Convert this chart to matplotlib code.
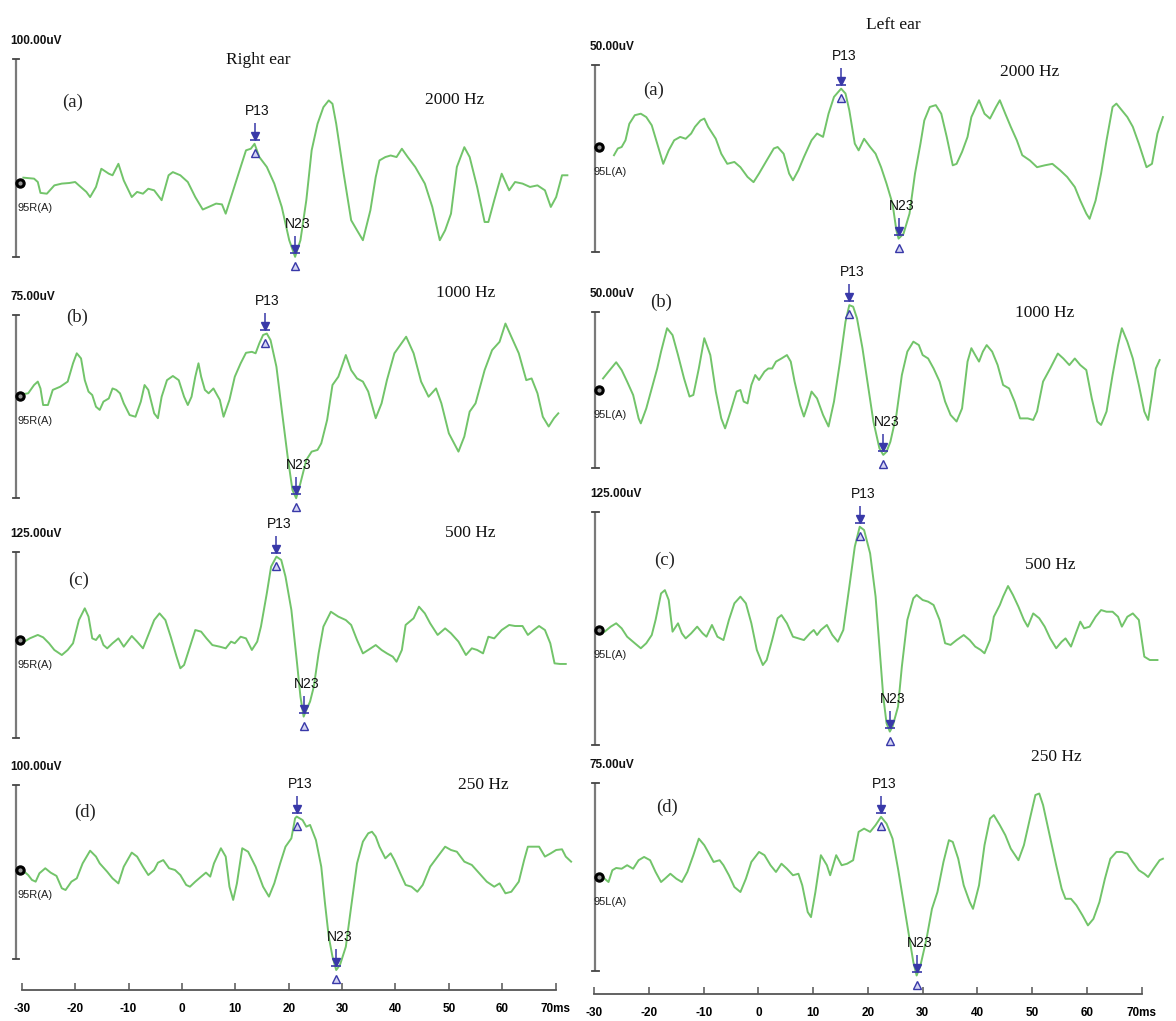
import matplotlib
matplotlib.use('Agg')
import matplotlib.pyplot as plt
from matplotlib.transforms import offset_copy

# ---------------- data (latency ms, amplitude uV) ----------------
right_2000 = [(-29.7, 2.7), (-27.7, 2.2), (-27.0, 0.5), (-26.5, -5.0), (-25.3, -5.4), (-23.9, -1.2), (-22.5, -0.3),
              (-21.1, 0.0), (-20.0, 0.5), (-19.3, -1.2), (-17.9, -4.5), (-17.2, -7.1), (-16.1, -2.0), (-15.1, 7.2),
              (-13.7, 4.7), (-13.0, 3.9), (-11.9, 9.7), (-10.9, 1.3), (-9.4, -7.1), (-8.4, -4.5), (-7.3, -5.4),
              (-6.3, -2.9), (-5.2, -3.7), (-3.8, -8.7), (-2.5, 3.9), (-1.7, 5.5), (-0.3, 3.9), (1.1, 0.5),
              (2.5, -7.1), (3.9, -13.4), (5.0, -12.1), (6.4, -10.4), (7.5, -10.8), (8.2, -15.5), (9.2, -7.1),
              (11.0, 8.1), (12.0, 16.5), (12.9, 17.3), (13.6, 19.8), (14.5, 13.1), (15.9, 8.1), (17.3, -0.3),
              (18.7, -12.1), (20.1, -28.9), (21.2, -37.3), (22.2, -28.9), (23.3, -8.7), (24.3, 16.5), (25.4, 29.9),
              (26.5, 38.3), (27.5, 41.7), (28.2, 40.0), (28.9, 29.9), (30.3, 4.7), (31.7, -18.8), (32.8, -23.9),
              (33.9, -28.9), (35.3, -13.8), (36.3, 3.0), (37.0, 11.4), (38.1, 13.1), (39.1, 13.9), (40.2, 13.1),
              (41.2, 17.3), (42.3, 13.1), (43.7, 8.1), (45.5, -0.3), (46.9, -12.1), (48.3, -28.9), (49.3, -23.9),
              (50.4, -15.5), (51.5, 8.1), (52.9, 18.1), (53.9, 13.1), (55.3, -2.0), (56.7, -19.7), (57.4, -19.7),
              (58.5, -8.7), (59.9, 4.7), (61.3, -3.7), (62.4, 0.5), (63.8, -0.3), (65.2, -2.0), (66.6, -1.2),
              (68.0, -3.7), (69.1, -12.1), (70.1, -7.1), (71.2, 3.9), (72.2, 3.9)]

right_1000 = [(-29.7, 0.8), (-28.8, 1.1), (-27.7, 4.5), (-27.0, 5.9), (-26.5, 3.1), (-26.0, -3.7), (-25.1, -3.7),
              (-24.2, 2.5), (-22.8, 3.8), (-21.4, 5.9), (-20.4, 13.4), (-19.7, 17.5), (-18.9, 15.4), (-18.2, 6.5),
              (-17.5, 1.8), (-16.8, 0.4), (-16.1, -4.4), (-15.4, -5.7), (-14.7, -2.3), (-13.7, -1.0), (-13.0, 3.1),
              (-12.3, 2.5), (-11.6, 1.1), (-10.9, -3.0), (-9.8, -7.8), (-8.7, -8.5), (-7.7, -2.3), (-7.0, 4.5),
              (-6.3, 2.5), (-5.2, -7.1), (-4.5, -9.1), (-3.8, -0.3), (-2.8, 6.5), (-1.7, 8.2), (-0.6, 6.5),
              (0.4, -0.3), (1.1, -3.7), (1.8, -0.3), (2.5, 7.9), (3.1, 13.4), (3.6, 7.9), (4.3, 2.5), (5.0, 1.1),
              (5.9, 3.1), (7.1, -1.6), (7.8, -8.5), (8.9, -1.6), (9.9, 7.9), (11.0, 13.4), (12.0, 17.7),
              (13.1, 18.1), (13.8, 17.5), (14.5, 21.6), (15.2, 25.0), (15.9, 25.6), (16.6, 22.9), (17.7, 12.0),
              (18.7, -5.7), (19.8, -24.8), (20.7, -38.5), (21.4, -41.9), (22.2, -35.7), (23.3, -26.2),
              (24.3, -22.8), (25.4, -22.1), (26.1, -19.4), (27.2, -9.8), (28.2, 4.5), (29.3, 7.9), (30.7, 16.8),
              (31.7, 10.6), (32.8, 7.2), (33.9, 5.9), (34.9, 1.8), (36.3, -9.1), (37.4, -3.0), (38.4, 6.5),
              (39.8, 17.5), (42.0, 24.3), (43.4, 17.5), (44.8, 5.9), (46.2, -0.3), (47.6, 3.1), (48.6, -3.0),
              (50.0, -15.3), (51.8, -22.8), (52.9, -16.6), (53.9, -6.4), (55.0, -3.0), (56.7, 10.6), (58.1, 18.8),
              (59.5, 22.2), (60.6, 29.7), (61.7, 24.3), (63.1, 17.5), (64.5, 6.5), (65.5, 7.2), (66.6, 1.1),
              (67.6, -8.5), (68.7, -12.5), (69.7, -9.1), (70.5, -7.1)]

right_500 = [(-29.5, -1.1), (-28.5, 1.1), (-27.0, 3.4), (-26.0, 1.8), (-24.9, -2.2), (-23.9, -6.7), (-22.5, -10.1),
             (-21.4, -6.7), (-20.4, -2.2), (-19.3, 13.4), (-18.2, 21.3), (-17.5, 15.7), (-16.8, 1.1), (-16.1, 0.0),
             (-15.4, 3.4), (-14.7, -3.4), (-14.0, -5.6), (-13.0, -2.2), (-11.9, 1.1), (-10.9, -4.5), (-9.4, 2.7),
             (-8.4, -1.1), (-7.3, -5.6), (-6.3, 3.4), (-5.2, 13.4), (-4.2, 17.9), (-3.1, 13.4), (-2.1, 2.2),
             (-1.0, -11.2), (-0.3, -19.0), (0.4, -16.8), (1.5, -4.5), (2.5, 6.7), (3.6, 5.6), (4.6, 1.1),
             (5.7, -3.4), (7.1, -4.5), (8.2, -5.6), (9.2, -1.1), (9.9, -2.2), (11.0, 2.2), (12.0, 1.1),
             (13.1, -6.7), (14.1, -1.1), (14.8, 9.0), (15.9, 31.4), (16.7, 49.3), (17.7, 56.0), (18.6, 53.8),
             (19.4, 42.6), (20.5, 20.2), (21.5, -13.4), (22.2, -38.1), (22.8, -51.5), (23.3, -47.0), (24.0, -41.4),
             (24.7, -31.4), (25.6, -9.0), (26.5, 9.0), (27.9, 19.0), (29.3, 15.7), (30.7, 13.4), (31.7, 10.1),
             (32.8, 0.0), (33.9, -9.0), (34.9, -6.7), (36.3, -3.4), (37.4, -6.7), (38.4, -9.0), (39.5, -11.2),
             (40.2, -14.6), (41.2, -6.7), (41.9, 10.1), (43.4, 14.6), (44.4, 22.4), (45.5, 17.9), (46.5, 11.2),
             (47.9, 3.4), (49.3, 7.8), (50.4, 4.5), (51.8, -1.1), (53.2, -10.1), (54.3, -5.6), (55.3, -6.7),
             (56.4, -9.0), (57.4, 2.2), (58.5, 1.1), (59.9, 6.7), (61.3, 10.1), (62.4, 9.4), (63.8, 9.4),
             (64.8, 3.4), (65.9, 6.7), (66.9, 9.4), (68.0, 6.7), (69.0, -2.2), (69.8, -15.7), (70.8, -16.1),
             (71.9, -16.1)]

right_250 = [(-29.9, 0.0), (-28.8, -2.9), (-28.1, -5.7), (-27.4, -6.7), (-26.7, -1.9), (-25.6, 1.0), (-24.6, -1.5),
             (-23.5, -3.4), (-22.5, -10.5), (-21.8, -11.5), (-20.7, -6.7), (-19.7, -4.8), (-18.6, 3.8), (-17.2, 11.1),
             (-16.1, 7.7), (-15.4, 3.8), (-14.0, -1.0), (-13.0, -4.8), (-11.9, -7.7), (-10.9, 1.9), (-9.4, 10.0),
             (-8.4, 7.7), (-7.3, 1.9), (-6.3, -2.9), (-5.2, 0.0), (-4.5, 4.2), (-3.5, 5.7), (-2.4, 1.0),
             (-1.3, 0.0), (-0.3, -2.9), (0.8, -8.6), (1.5, -9.6), (2.5, -6.7), (3.6, -3.8), (4.5, -1.5),
             (5.3, -3.8), (6.0, 3.8), (7.3, 12.5), (8.2, 7.7), (8.9, -9.6), (9.6, -17.2), (10.3, -7.7),
             (11.3, 12.5), (12.4, 10.5), (13.8, 1.9), (15.2, -9.6), (16.3, -15.3), (17.3, -7.7), (18.4, 3.8),
             (19.4, 13.4), (20.5, 18.2), (21.2, 29.7), (21.5, 30.7), (22.6, 28.7), (23.3, 24.9), (24.0, 25.9),
             (25.1, 17.2), (26.1, 1.9), (26.8, -19.2), (27.5, -38.3), (28.2, -49.8), (28.9, -57.5), (29.6, -54.6),
             (30.7, -44.1), (31.7, -21.1), (32.8, 3.8), (33.9, 16.3), (34.9, 21.1), (35.6, 22.0), (36.3, 19.2),
             (37.0, 13.4), (38.1, 6.7), (39.1, 9.6), (39.8, 5.7), (40.9, -1.9), (41.9, -8.6), (43.0, -9.6),
             (44.1, -12.5), (45.1, -8.6), (46.5, 1.9), (47.9, 7.7), (49.3, 13.4), (50.4, 11.5), (51.5, 10.5),
             (52.9, 4.8), (54.3, 2.9), (55.7, -1.9), (57.1, -6.7), (58.5, -9.6), (59.5, -7.7), (60.6, -13.4),
             (61.7, -12.5), (63.1, -6.7), (64.1, 5.7), (64.8, 13.4), (65.9, 13.4), (66.9, 13.4), (68.0, 7.7),
             (69.1, 9.6), (70.1, 11.5), (71.2, 11.9), (71.9, 7.7), (72.9, 4.8)]

left_2000 = [(-26.4, -2.2), (-25.7, -0.4), (-25.0, 0.0), (-24.3, 1.8), (-23.6, 6.2), (-22.6, 8.5), (-21.5, 8.9),
             (-20.5, 8.0), (-19.5, 5.8), (-18.5, 0.9), (-17.4, -4.5), (-16.4, -0.9), (-15.4, 1.8), (-14.3, 2.7),
             (-13.3, 2.2), (-12.3, 3.6), (-11.6, 5.4), (-10.6, 7.1), (-9.9, 7.6), (-9.2, 5.4), (-7.8, 2.2),
             (-6.8, -1.8), (-5.7, -4.5), (-4.4, -4.0), (-3.3, -5.4), (-2.0, -8.0), (-0.9, -9.4), (0.1, -7.1),
             (1.5, -3.6), (2.8, -0.4), (3.5, 0.0), (4.6, -1.8), (5.6, -7.1), (6.3, -8.9), (7.3, -6.2), (8.3, -2.7),
             (9.7, 1.8), (10.7, 3.6), (11.8, 2.7), (12.8, 8.9), (13.8, 13.4), (15.1, 15.6), (15.9, 14.3),
             (16.6, 9.8), (17.6, 0.9), (18.3, -0.9), (19.3, 2.2), (20.4, 0.0), (21.4, -1.8), (22.4, -5.4),
             (23.4, -9.8), (24.5, -15.2), (25.2, -22.3), (25.6, -24.5), (26.5, -23.2), (27.6, -17.8), (28.6, -7.1),
             (29.6, 0.9), (30.3, 7.1), (31.3, 10.7), (32.4, 11.2), (33.4, 8.9), (34.4, 2.7), (35.5, -4.9),
             (36.2, -4.5), (37.2, -1.3), (38.2, 2.7), (38.9, 8.0), (40.3, 12.5), (41.3, 8.9), (42.3, 7.6),
             (43.4, 10.7), (44.1, 12.5), (45.1, 8.9), (46.1, 5.4), (47.2, 1.8), (48.2, -2.2), (49.6, -3.6),
             (50.9, -5.4), (52.3, -4.9), (53.7, -4.5), (55.1, -6.2), (56.4, -8.0), (57.8, -10.7), (58.8, -14.3),
             (59.9, -17.8), (60.5, -19.2), (61.6, -14.3), (62.6, -7.1), (63.6, 1.8), (64.7, 10.7), (65.4, 11.6),
             (66.4, 9.8), (67.4, 8.0), (68.4, 5.4), (69.5, 0.9), (70.9, -5.4), (71.9, -4.5), (72.9, 3.6),
             (73.9, 8.0)]

left_1000 = [(-28.4, 3.7), (-27.4, 5.9), (-26.0, 8.9), (-25.0, 6.4), (-24.0, 2.7), (-22.9, -1.6), (-21.9, -9.1),
             (-21.5, -10.7), (-20.5, -5.9), (-19.5, 0.5), (-18.5, 6.9), (-17.8, 12.3), (-16.7, 19.8), (-15.7, 17.6),
             (-14.7, 11.2), (-13.6, 3.7), (-12.6, -2.1), (-11.9, -1.6), (-10.9, 6.9), (-9.9, 16.6), (-8.8, 11.2),
             (-7.8, -0.5), (-6.8, -9.1), (-6.1, -12.3), (-5.1, -6.9), (-4.0, -0.5), (-3.3, 0.0), (-2.7, -3.7),
             (-2.0, -4.3), (-1.3, 1.6), (-0.6, 4.8), (0.1, 3.2), (1.1, 5.9), (1.8, 6.9), (2.5, 6.9), (3.2, 9.1),
             (4.2, 10.1), (5.2, 11.2), (5.9, 9.1), (6.6, 2.7), (7.6, -4.8), (8.3, -8.5), (9.0, -4.8), (9.7, -0.5),
             (10.7, -2.7), (11.8, -8.0), (12.8, -11.7), (13.8, -3.7), (14.9, 9.1), (15.9, 21.9), (16.6, 27.2),
             (17.3, 26.7), (18.0, 23.0), (19.0, 13.4), (20.0, 1.6), (21.0, -10.1), (22.1, -18.7), (22.8, -20.8),
             (23.4, -19.8), (24.1, -16.6), (25.2, -8.0), (26.2, 4.8), (27.2, 12.3), (28.3, 15.5), (29.3, 14.4),
             (30.0, 11.2), (31.0, 10.1), (32.0, 6.9), (33.1, 2.7), (34.1, -3.7), (35.1, -8.0), (36.2, -10.1),
             (37.2, -5.9), (38.2, 9.1), (38.9, 13.4), (39.6, 11.2), (40.3, 9.1), (41.0, 12.3), (41.7, 14.4),
             (42.7, 12.3), (43.7, 8.0), (44.7, 1.6), (45.8, 0.5), (46.8, -3.7), (47.8, -9.1), (49.2, -9.1),
             (50.2, -9.6), (50.9, -6.9), (52.0, 2.7), (53.3, 6.9), (54.7, 11.7), (55.7, 10.1), (56.8, 8.0),
             (57.8, 10.1), (58.8, 8.0), (59.9, 6.4), (60.9, -2.7), (61.9, -10.1), (62.6, -11.2), (63.6, -6.9),
             (64.7, 4.8), (65.7, 14.4), (66.4, 19.8), (67.4, 15.5), (68.4, 10.1), (69.5, 1.6), (70.5, -6.9),
             (71.2, -9.6), (71.9, -1.6), (72.6, 6.9), (73.3, 9.6)]

left_500 = [(-29.1, -1.8), (-28.1, -0.9), (-27.0, 1.8), (-26.0, 3.6), (-25.0, 0.9), (-24.0, -3.6), (-22.6, -7.1),
            (-21.5, -9.8), (-20.5, -7.1), (-19.5, -2.7), (-18.8, 5.4), (-17.8, 19.6), (-17.1, 21.4), (-16.4, 16.1),
            (-15.7, -0.9), (-14.7, 3.6), (-14.0, -1.8), (-13.3, -4.5), (-12.3, -1.8), (-11.2, 1.8), (-10.2, -1.8),
            (-9.5, -3.6), (-8.5, 2.7), (-7.5, -3.6), (-6.4, -5.4), (-5.4, 5.4), (-4.4, 14.3), (-3.3, 17.9),
            (-2.3, 14.3), (-1.3, 3.6), (-0.3, -10.7), (0.8, -18.8), (1.5, -16.1), (2.5, -5.4), (3.5, 6.3),
            (4.2, 8.0), (5.2, 3.6), (6.3, -3.6), (7.3, -4.5), (8.3, -5.4), (9.4, -1.8), (10.1, 0.0), (10.7, -2.7),
            (11.4, 0.0), (12.5, 2.7), (13.5, -2.7), (14.5, -6.3), (15.5, 0.0), (16.6, 23.2), (17.6, 44.7),
            (18.5, 55.4), (19.3, 53.6), (20.4, 41.1), (21.4, 17.9), (22.1, -8.9), (22.8, -35.7), (23.4, -50.0),
            (24.0, -54.5), (24.5, -51.8), (25.5, -41.1), (26.2, -19.6), (27.2, 5.4), (28.3, 17.0), (28.9, 18.8),
            (30.0, 16.1), (31.0, 15.2), (32.0, 13.4), (33.1, 5.4), (34.1, -7.1), (35.1, -8.0), (36.2, -5.4),
            (37.5, -2.7), (38.6, -5.4), (39.6, -8.9), (40.6, -10.7), (41.3, -12.5), (42.3, -5.4), (43.0, 7.1),
            (44.1, 13.4), (44.7, 17.9), (45.6, 23.6), (46.5, 18.8), (47.5, 12.5), (48.5, 5.4), (49.2, 1.8),
            (50.2, 8.9), (51.3, 6.3), (52.3, 1.8), (53.3, -4.5), (54.4, -9.8), (55.4, -6.3), (56.1, -4.5),
            (57.1, -8.9), (58.1, -0.9), (58.8, 4.5), (59.5, 0.9), (60.5, 1.8), (61.6, 7.1), (62.6, 10.7),
            (63.6, 9.8), (64.7, 9.8), (65.7, 7.1), (66.4, 1.8), (67.4, 7.1), (68.4, 8.9), (69.5, 5.4),
            (70.5, -14.3), (71.5, -16.1), (72.9, -16.1)]

left_250 = [(-28.8, 1.3), (-28.1, -0.7), (-27.4, -2.0), (-26.7, 2.7), (-26.0, 3.6), (-25.0, 3.3), (-24.0, 4.7),
            (-22.9, 3.3), (-21.9, 6.7), (-20.9, 8.0), (-19.8, 6.7), (-18.8, 2.0), (-17.8, -2.0), (-17.1, -0.7),
            (-16.1, 1.3), (-15.0, -0.7), (-14.0, -2.0), (-13.0, 2.0), (-11.9, 8.7), (-10.9, 15.3), (-9.9, 12.7),
            (-9.2, 10.0), (-8.2, 6.0), (-7.1, 6.7), (-6.4, 4.7), (-5.4, 0.7), (-4.4, -4.0), (-3.3, -6.0),
            (-2.3, -0.7), (-1.3, 6.0), (0.1, 10.0), (1.1, 8.7), (2.2, 4.7), (3.2, 2.0), (4.2, 5.3), (5.2, 3.3),
            (6.3, 0.7), (7.3, 1.3), (8.0, -3.3), (9.0, -14.0), (9.6, -16.0), (10.4, -6.0), (11.4, 8.7),
            (12.5, 4.7), (13.1, 0.7), (14.2, 8.7), (15.2, 4.7), (16.2, 5.3), (17.3, 6.7), (18.3, 18.0),
            (19.3, 19.3), (20.4, 18.0), (21.4, 20.7), (22.4, 24.0), (23.4, 21.3), (24.5, 15.3), (25.5, 3.3),
            (26.5, -10.0), (27.6, -24.7), (28.3, -34.0), (28.9, -39.3), (29.6, -35.3), (30.7, -24.7),
            (31.7, -12.7), (32.7, -6.0), (33.8, 6.0), (34.8, 14.7), (35.5, 14.0), (36.5, 7.3), (37.5, -3.3),
            (38.6, -10.0), (39.2, -12.7), (40.3, -3.3), (41.3, 12.7), (42.3, 23.3), (43.0, 24.7), (44.1, 20.7),
            (45.1, 16.7), (46.1, 11.3), (47.5, 6.7), (48.5, 12.7), (49.6, 23.3), (50.6, 32.7), (51.3, 33.3),
            (52.0, 28.7), (53.0, 18.7), (54.4, 4.7), (55.4, -4.7), (56.1, -8.7), (57.1, -8.7), (58.1, -11.3),
            (59.2, -15.3), (60.2, -19.3), (61.2, -16.7), (62.3, -10.0), (63.3, -0.7), (64.3, 7.3), (65.4, 10.0),
            (66.4, 10.0), (67.4, 9.3), (68.4, 6.0), (69.5, 2.7), (70.5, 1.3), (71.2, 0.0), (72.2, 3.3),
            (73.3, 6.7), (73.9, 7.3)]

# peak picks (latency ms, amplitude uV)
right_p13 = [(13.6, 19.8), (15.5, 25.6), (17.7, 56.0), (21.5, 30.7)]
right_n23 = [(21.2, -37.3), (21.4, -41.9), (22.8, -51.5), (28.9, -57.5)]
left_p13 = [(15.1, 15.6), (16.6, 27.2), (18.5, 55.4), (22.4, 24.0)]
left_n23 = [(25.6, -24.5), (22.8, -20.8), (24.0, -54.5), (28.9, -39.3)]

right_scale_uv = [100, 75, 125, 100]
left_scale_uv = [50, 50, 125, 75]
freq_labels = ['2000 Hz', '1000 Hz', '500 Hz', '250 Hz']
panel_letters = ['(a)', '(b)', '(c)', '(d)']
ear_titles = ['Right ear', 'Left ear']
channel_labels = ['95R(A)', '95L(A)']
x_ticks = [-30, -20, -10, 0, 10, 20, 30, 40, 50, 60, 70]
x_tick_labels = ['-30', '-20', '-10', '0', '10', '20', '30', '40', '50', '60', '70ms']

# ---------------- layout ----------------
W, H = 1176, 1021
fig = plt.figure(figsize=(W / 100, H / 100), dpi=100)
fig.patch.set_facecolor('white')

SANS = ['Liberation Sans', 'DejaVu Sans']
SERIF = ['Liberation Serif', 'DejaVu Serif']
GREEN = '#72c46a'
BLUE = '#3838a8'
GRAY = '#7a7a7a'


def fx(px):
    return px / W


def fy(py):
    return 1 - py / H


columns = [
    dict(x0=0, w=590, xlim=(-34.08, 76.44), bar_x=-31.1, dot_x=-30.4, text_x=17, scale_x=10, axis_y=990,
         traces=[right_2000, right_1000, right_500, right_250], p13=right_p13, n23=right_n23,
         scales=right_scale_uv, chan=channel_labels[0], title=ear_titles[0], title_xy=(258, 60),
         bars=[(59, 257, 183), (315, 498, 396), (552, 738, 640), (785, 959, 870)],
         letter_xy=[(73, 102), (77, 317), (79, 580), (85, 812)],
         freq_xy=[(455, 100), (466, 293), (470, 533), (483, 785)]),
    dict(x0=580, w=596, xlim=(-32.61, 76.29), bar_x=-29.8, dot_x=-29.1, text_x=594, scale_x=590, axis_y=994,
         traces=[left_2000, left_1000, left_500, left_250], p13=left_p13, n23=left_n23,
         scales=left_scale_uv, chan=channel_labels[1], title=ear_titles[1], title_xy=(893, 25),
         bars=[(65, 252, 147), (312, 468, 390), (512, 745, 630), (783, 971, 877)],
         letter_xy=[(654, 90), (661, 302), (665, 560), (667, 807)],
         freq_xy=[(1030, 72), (1045, 313), (1050, 565), (1056, 757)]),
]


def pick(ax, lat, amp, name):
    def tr(dy):
        return offset_copy(ax.transData, fig=fig, x=0, y=dy, units='dots')
    ax.plot([lat], [amp], marker='|', ms=9, mew=1.1, color=BLUE, transform=tr(15), clip_on=False, zorder=6)
    ax.plot([lat], [amp], marker='v', ms=5.5, color=BLUE, mec=BLUE, transform=tr(8), clip_on=False, zorder=6)
    ax.plot([lat], [amp], marker='_', ms=7, mew=1.2, color=BLUE, transform=tr(4), clip_on=False, zorder=6)
    ax.plot([lat], [amp], marker='^', ms=6, mfc='#d4d4f2', mec=BLUE, mew=1.0, transform=tr(-9),
            clip_on=False, zorder=6)
    ax.annotate(name, xy=(lat, amp), xytext=(3, 33), textcoords='offset pixels', ha='center', va='center',
                fontsize=10, family=SANS, color='#111111', annotation_clip=False)


for col in columns:
    for i in range(4):
        top_px, bot_px, dot_px = col['bars'][i]
        scale = col['scales'][i]
        ppu = (bot_px - top_px) / scale
        top = (dot_px - top_px) / ppu
        ax = fig.add_axes([fx(col['x0']), fy(bot_px), fx(col['w']), (bot_px - top_px) / H])
        ax.set_xlim(*col['xlim'])
        ax.set_ylim(top - scale, top)
        ax.axis('off')

        t = [p[0] for p in col['traces'][i]]
        v = [p[1] for p in col['traces'][i]]
        ax.plot(t, v, color=GREEN, lw=1.4, clip_on=False, solid_joinstyle='round', zorder=3)

        bx = col['bar_x']
        ax.plot([bx, bx], [top - scale, top], color=GRAY, lw=1.6, clip_on=False, solid_capstyle='butt')
        for yy in (top, top - scale):
            ax.plot([bx - 0.6, bx + 0.6], [yy, yy], color='#444444', lw=1.3, clip_on=False)
        ax.plot([col['dot_x']], [0], 'o', ms=6.5, color='black', clip_on=False, zorder=5)
        ax.plot([col['dot_x']], [0], 'o', ms=2, color='#9a9a9a', clip_on=False, zorder=6)

        pick(ax, *col['p13'][i], 'P13')
        pick(ax, *col['n23'][i], 'N23')

        fig.text(fx(col['scale_x']), fy(top_px - 18), f'{scale:.2f}uV', ha='left', va='center',
                 fontsize=8.5, family=SANS, weight='bold', color='#111111')
        fig.text(fx(col['text_x']), fy(dot_px + 25), col['chan'], ha='left', va='center',
                 fontsize=8, family=SANS, color='#222222')
        lx, ly = col['letter_xy'][i]
        fig.text(fx(lx), fy(ly), panel_letters[i], ha='center', va='center', fontsize=13.5,
                 family=SERIF, color='#222222')
        qx, qy = col['freq_xy'][i]
        fig.text(fx(qx), fy(qy), freq_labels[i], ha='center', va='center', fontsize=12.5,
                 family=SERIF, color='#111111')

    tx, ty = col['title_xy']
    fig.text(fx(tx), fy(ty), col['title'], ha='center', va='center', fontsize=12.5, family=SERIF,
             color='#111111')

    axb = fig.add_axes([fx(col['x0']), fy(col['axis_y']), fx(col['w']), 0.0005])
    axb.set_xlim(*col['xlim'])
    axb.patch.set_visible(False)
    for s in ('top', 'left', 'right'):
        axb.spines[s].set_visible(False)
    axb.spines['bottom'].set_bounds(-30, 70)
    axb.spines['bottom'].set_color('#555555')
    axb.spines['bottom'].set_linewidth(1.3)
    axb.set_yticks([])
    axb.set_xticks(x_ticks)
    axb.set_xticklabels(x_tick_labels, family=SANS, weight='bold')
    axb.tick_params(axis='x', direction='in', length=5, width=1.1, color='#555555', pad=9, labelsize=8.5)

fig.savefig('out.png', dpi=100, facecolor='white')
